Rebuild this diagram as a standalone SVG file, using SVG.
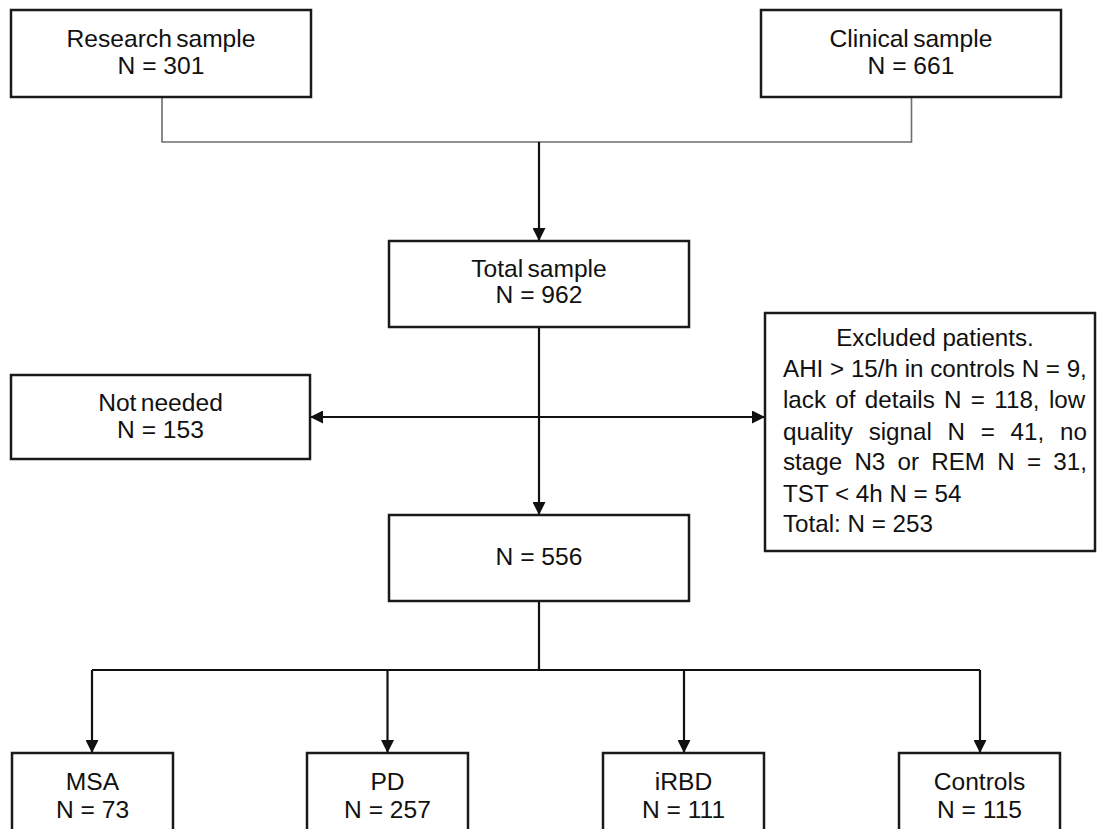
<svg xmlns="http://www.w3.org/2000/svg" width="1099" height="829" viewBox="0 0 1099 829">
  <style>
    .box { fill: #ffffff; stroke: #1a1a1a; stroke-width: 2.5; }
    .t { font-family: "Liberation Sans", Arial, sans-serif; font-size: 24.6px; fill: #111111; }
    .x { font-size: 24.2px; }
    .c { text-anchor: middle; }
    .tight { word-spacing: -2.5px; }
    .conn { fill: none; stroke: #111111; stroke-width: 2.2; }
    .gray { fill: none; stroke: #6e6e6e; stroke-width: 1.6; }
  </style>
  <defs>
    <marker id="arr" viewBox="0 0 12 12" markerWidth="13" markerHeight="13" refX="12" refY="6" orient="auto" markerUnits="userSpaceOnUse">
      <path d="M0,0 L12,6 L0,12 z" fill="#111111"/>
    </marker>
  </defs>
  <rect x="0" y="0" width="1099" height="829" fill="#ffffff"/>

  <g id="connectors">
    <path class="gray" d="M162,97 V142 H911.5 V97"/>
    <path class="conn" d="M539,142 V241" marker-end="url(#arr)"/>
    <path class="conn" d="M539,327 V515" marker-end="url(#arr)"/>
    <path class="conn" d="M539,417 H310" marker-end="url(#arr)"/>
    <path class="conn" d="M539,417 H765" marker-end="url(#arr)"/>
    <path class="conn" d="M539,601 V670"/>
    <path class="conn" d="M92,670 H980"/>
    <path class="conn" d="M92,670 V753" marker-end="url(#arr)"/>
    <path class="conn" d="M387.5,670 V753" marker-end="url(#arr)"/>
    <path class="conn" d="M684,670 V753" marker-end="url(#arr)"/>
    <path class="conn" d="M980,670 V753" marker-end="url(#arr)"/>
  </g>

  <g id="research">
    <rect class="box" x="11" y="10" width="300" height="87"/>
    <text class="t c tight" x="161" y="47">Research sample</text>
    <text class="t c" x="161" y="74">N = 301</text>
  </g>

  <g id="clinical">
    <rect class="box" x="761" y="10" width="300" height="87"/>
    <text class="t c tight" x="911" y="47">Clinical sample</text>
    <text class="t c" x="911" y="74">N = 661</text>
  </g>

  <g id="total">
    <rect class="box" x="389" y="241" width="300" height="86"/>
    <text class="t c tight" x="539" y="277">Total sample</text>
    <text class="t c" x="539" y="303">N = 962</text>
  </g>

  <g id="notneeded">
    <rect class="box" x="11" y="375" width="299" height="84"/>
    <text class="t c tight" x="160.5" y="411">Not needed</text>
    <text class="t c" x="160.5" y="438">N = 153</text>
  </g>

  <g id="excluded">
    <rect class="box" x="765" y="313" width="330" height="238"/>
    <text class="t x c" x="935" y="346">Excluded patients.</text>
    <text class="t x" x="783" y="377">AHI &gt; 15/h in controls N = 9,</text>
    <text class="t x" x="783" y="408" style="word-spacing:2.6px">lack of details N = 118, low</text>
    <text class="t x" x="783" y="440" style="word-spacing:9px">quality signal N = 41, no</text>
    <text class="t x" x="783" y="470" style="word-spacing:5.5px">stage N3 or REM N = 31,</text>
    <text class="t x" x="783" y="502">TST &lt; 4h N = 54</text>
    <text class="t x" x="783" y="532">Total: N = 253</text>
  </g>

  <g id="n556">
    <rect class="box" x="389" y="515" width="300" height="86"/>
    <text class="t c" x="539" y="565">N = 556</text>
  </g>

  <g id="msa">
    <rect class="box" x="12" y="753" width="161" height="90"/>
    <text class="t c" x="92.5" y="790">MSA</text>
    <text class="t c" x="92.5" y="818">N = 73</text>
  </g>

  <g id="pd">
    <rect class="box" x="307" y="753" width="161" height="90"/>
    <text class="t c" x="387.5" y="790">PD</text>
    <text class="t c" x="387.5" y="818">N = 257</text>
  </g>

  <g id="irbd">
    <rect class="box" x="603" y="753" width="161" height="90"/>
    <text class="t c" x="683.5" y="790">iRBD</text>
    <text class="t c" x="683.5" y="818">N = 111</text>
  </g>

  <g id="controls">
    <rect class="box" x="899" y="753" width="161" height="90"/>
    <text class="t c" x="979.5" y="790">Controls</text>
    <text class="t c" x="979.5" y="818">N = 115</text>
  </g>
</svg>
